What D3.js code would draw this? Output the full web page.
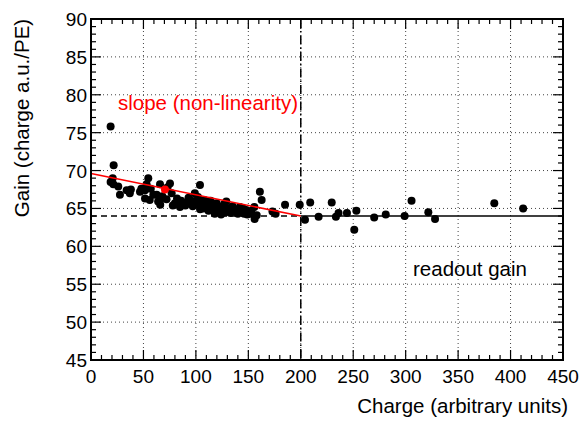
<!DOCTYPE html>
<html><head><meta charset="utf-8">
<script src="https://cdn.jsdelivr.net/npm/d3@7"></script>
<style>body{margin:0;background:#fff}svg{display:block}text{font-family:"Liberation Sans",Arial,Helvetica,sans-serif}</style>
</head><body><svg id="c" width="587" height="421"></svg>
<script>
const charge = [18.7,21.6,20.7,18.7,21.3,26,27.6,34,37,38,46.7,48,54.6,51.5,51.5,56,53,57,59.4,62.6,64,65.8,65.8,66,75.3,76.9,73,80,82,84.8,86,88,92.8,95,97,99,103.9,102,105.5,107,110,110,112,114,116.6,118,119.8,121.3,123,124,126,128,129,131,133,135,137,139,142,144,146,148,150,153,155.7,156,158,161,162.7,173,176,185,199,204,209,217,229.5,233.5,236,244,251,253,270,281,299,305.6,321.6,328,384.5,412,100,101,104,108,113,117,125,127,132,136,140,141,145,149,152,90,93,78,68,72];
const gain = [75.8,70.7,69.0,68.5,68.2,67.9,66.8,67.4,67.0,67.5,67.2,67.6,69.0,67.4,66.3,66.1,68.2,67.6,66.8,66.8,65.9,68.2,66.1,65.5,68.3,67.0,67.8,65.7,66.3,65.2,66.0,65.6,65.9,66.1,65.3,67.0,68.1,66.5,65.7,65.0,65.2,65.8,64.7,66.0,64.8,64.3,65.7,64.6,65.2,64.2,65.2,64.5,65.9,64.9,64.4,65.3,64.7,64.5,65.2,64.6,64.3,64.8,64.5,64.7,65.2,63.6,64.1,67.2,66.1,64.6,64.3,65.5,65.5,63.5,65.8,63.9,65.8,63.9,64.4,64.4,62.2,64.7,63.8,64.2,64.0,66.0,64.5,63.6,65.7,65.0,65.5,66.0,64.9,66.1,65.4,65.3,64.8,65.6,65.0,64.9,64.3,64.9,65.0,64.2,64.3,65.4,66.4,65.4,66.6,66.2];
const redPoint = [70.5, 67.5];
const slopeLine = [[0, 69.6], [200, 64.0]];
const readoutGain = 64.0;
const kneeCharge = 200;
const xTicks = [0,50,100,150,200,250,300,350,400,450];
const yTicks = [45,50,55,60,65,70,75,80,85,90];
const xLabel = "Charge (arbitrary units)";
const yLabel = "Gain (charge a.u./PE)";
const note1 = "slope (non-linearity)";
const note2 = "readout gain";

const svg = d3.select("#c");
const L = 91, R = 563, T = 19, B = 360;
const x = d3.scaleLinear().domain([0,450]).range([L,R]);
const y = d3.scaleLinear().domain([45,90]).range([B,T]);

// grid
const g = svg.append("g");
g.selectAll(".gx").data(xTicks.slice(1,-1)).join("line")
  .attr("x1",d=>x(d)).attr("x2",d=>x(d)).attr("y1",T).attr("y2",B)
  .attr("stroke","#444").attr("stroke-width",1).attr("stroke-dasharray","1,3");
g.selectAll(".gy").data(yTicks.slice(1,-1)).join("line")
  .attr("y1",d=>y(d)).attr("y2",d=>y(d)).attr("x1",L).attr("x2",R)
  .attr("stroke","#444").attr("stroke-width",1).attr("stroke-dasharray","1,3");

// ticks inward on all four sides
const xMinor = d3.range(0,451,10), yMinor = d3.range(45,90.01,1);
function tickLen(v, step){ return Math.abs(v/step - Math.round(v/step))<1e-6 ? 10 : 5; }
xMinor.forEach(v=>{
  const l = tickLen(v,50);
  svg.append("line").attr("x1",x(v)).attr("x2",x(v)).attr("y1",B).attr("y2",B-l).attr("stroke","#000").attr("stroke-width",1.2);
  svg.append("line").attr("x1",x(v)).attr("x2",x(v)).attr("y1",T).attr("y2",T+l).attr("stroke","#000").attr("stroke-width",1.2);
});
yMinor.forEach(v=>{
  const l = tickLen(v,5);
  svg.append("line").attr("y1",y(v)).attr("y2",y(v)).attr("x1",L).attr("x2",L+l).attr("stroke","#000").attr("stroke-width",1.2);
  svg.append("line").attr("y1",y(v)).attr("y2",y(v)).attr("x1",R).attr("x2",R-l).attr("stroke","#000").attr("stroke-width",1.2);
});

// tick labels
svg.selectAll(".xl").data(xTicks).join("text")
  .attr("x",d=>x(d)).attr("y",383).attr("text-anchor","middle")
  .attr("font-size",19).text(d=>d);
svg.selectAll(".yl").data(yTicks).join("text")
  .attr("x",87).attr("y",d=>y(d)+7).attr("text-anchor","end")
  .attr("font-size",19).text(d=>d);

// axis titles
svg.append("text").attr("x",568).attr("y",413).attr("text-anchor","end").attr("font-size",20.5).text(xLabel);
svg.append("text").attr("transform","translate(29,118) rotate(-90)").attr("text-anchor","middle").attr("font-size",20.5).text(yLabel);

// reference lines
svg.append("line").attr("x1",x(0)).attr("x2",x(kneeCharge)).attr("y1",y(readoutGain)).attr("y2",y(readoutGain))
  .attr("stroke","#000").attr("stroke-width",1.5).attr("stroke-dasharray","6,4");
svg.append("line").attr("x1",x(kneeCharge)).attr("x2",x(450)).attr("y1",y(readoutGain)).attr("y2",y(readoutGain))
  .attr("stroke","#000").attr("stroke-width",1.6);
svg.append("line").attr("x1",x(kneeCharge)).attr("x2",x(kneeCharge)).attr("y1",T).attr("y2",B)
  .attr("stroke","#000").attr("stroke-width",1.5).attr("stroke-dasharray","9,3,1.5,3");

// points
svg.selectAll(".pt").data(charge.map((c,i)=>[c,gain[i]])).join("circle")
  .attr("cx",d=>x(d[0])).attr("cy",d=>y(d[1])).attr("r",4).attr("fill","#000");

// slope line
svg.append("line").attr("x1",x(slopeLine[0][0])).attr("y1",y(slopeLine[0][1]))
  .attr("x2",x(slopeLine[1][0])).attr("y2",y(slopeLine[1][1]))
  .attr("stroke","#ff0000").attr("stroke-width",1.6);
svg.append("circle").attr("cx",x(redPoint[0])).attr("cy",y(redPoint[1])).attr("r",4).attr("fill","#ff0000");

// notes
svg.append("text").attr("x",118).attr("y",110).attr("fill","#ff0000").attr("font-size",20.5).text(note1);
svg.append("text").attr("x",413).attr("y",276).attr("fill","#000").attr("font-size",20.5).text(note2);

// frame
svg.append("rect").attr("x",L).attr("y",T).attr("width",R-L).attr("height",B-T)
  .attr("fill","none").attr("stroke","#000").attr("stroke-width",2);
</script></body></html>
